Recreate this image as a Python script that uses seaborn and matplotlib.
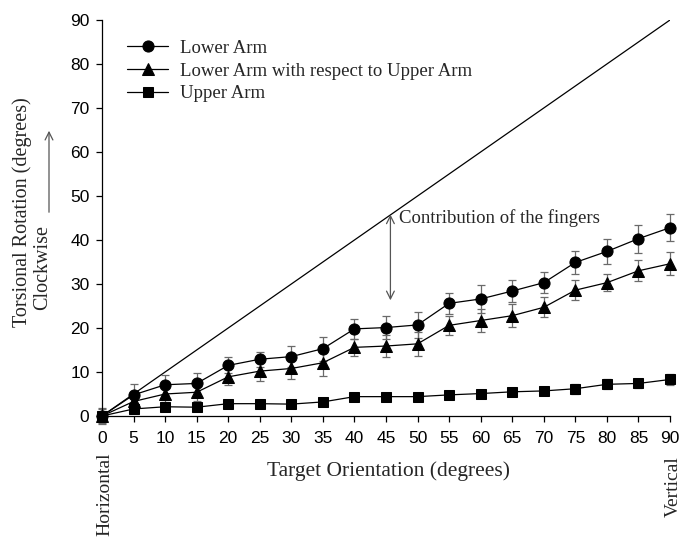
import numpy as np
import pandas as pd
import matplotlib
matplotlib.use("Agg")
import matplotlib.pyplot as plt
import seaborn as sns

# ---- data ----
orientation = [0, 5, 10, 15, 20, 25, 30, 35, 40, 45, 50, 55, 60, 65, 70, 75, 80, 85, 90]
lower_arm = [0, 4.8, 7.1, 7.4, 11.5, 12.9, 13.5, 15.3, 19.8, 20.1, 20.7, 25.6, 26.6, 28.4, 30.3, 34.9, 37.4, 40.3, 42.8]
lower_arm_err = [1.8, 2.4, 2.3, 2.3, 1.8, 1.7, 2.3, 2.7, 2.2, 2.6, 2.9, 2.4, 3.2, 2.6, 2.4, 2.6, 2.8, 3.2, 3.1]
lower_rel_upper = [0, 3.3, 5.0, 5.4, 8.9, 10.2, 10.8, 12.1, 15.6, 15.9, 16.4, 20.6, 21.7, 22.8, 24.7, 28.6, 30.3, 33.0, 34.6]
lower_rel_upper_err = [1.5, 1.8, 1.9, 1.9, 1.9, 2.2, 2.4, 2.9, 2.0, 2.5, 2.7, 2.1, 2.7, 2.6, 2.3, 2.2, 2.0, 2.4, 2.6]
upper_arm = [0, 1.6, 2.1, 2.0, 2.8, 2.8, 2.7, 3.2, 4.4, 4.4, 4.4, 4.8, 5.1, 5.5, 5.7, 6.2, 7.2, 7.4, 8.3]
upper_arm_err = [0.5, 0.4, 0.4, 0.4, 0.5, 0.5, 0.4, 0.5, 0.5, 0.5, 0.5, 0.5, 0.6, 0.9, 0.8, 1.1, 1.1, 1.0, 1.2]
series_names = ["Lower Arm", "Lower Arm with respect to Upper Arm", "Upper Arm"]
ideal_x = [0, 90]
ideal_y = [0, 90]
x_ticks = list(range(0, 95, 5))
y_ticks = list(range(0, 100, 10))

sns.set_style("ticks")
plt.rcParams["font.family"] = ["Liberation Sans", "DejaVu Sans"]
SERIF = ["Liberation Serif", "DejaVu Serif"]

W, H = 682, 540
fig = plt.figure(figsize=(W / 100, H / 100), dpi=100)
ax = fig.add_axes([102 / W, 124 / H, 568 / W, 396 / H])

# ideal line
sns.lineplot(x=ideal_x, y=ideal_y, color="black", linewidth=0.9, ax=ax)

series = [
    (series_names[0], lower_arm, lower_arm_err, "o", 8),
    (series_names[1], lower_rel_upper, lower_rel_upper_err, "^", 8),
    (series_names[2], upper_arm, upper_arm_err, "s", 7),
]
for name, ys, errs, mk, ms in series:
    ax.errorbar(orientation, ys, yerr=errs, fmt="none", ecolor="#6a6a6a",
                elinewidth=0.9, capsize=3, capthick=0.9, zorder=2, clip_on=False)
    df = pd.DataFrame({"x": orientation, "y": ys})
    sns.lineplot(data=df, x="x", y="y", color="black", marker=mk, markersize=ms,
                 markeredgecolor="black", linewidth=0.9, label=name, ax=ax,
                 clip_on=False, zorder=3)

ax.set_xlim(0, 90)
ax.set_ylim(0, 90)
ax.set_xticks(x_ticks)
ax.set_yticks(y_ticks)
ax.set_xlabel("")
ax.set_ylabel("")
sns.despine(ax=ax)
for s in ["left", "bottom"]:
    ax.spines[s].set_linewidth(0.9)
    ax.spines[s].set_color("black")
ax.tick_params(axis="both", direction="out", length=4, width=0.9, colors="black",
               labelsize=12.5)
ax.tick_params(axis="x", pad=7)
ax.tick_params(axis="y", pad=5)

handles, labels = ax.get_legend_handles_labels()
ax.legend(handles, labels, loc="upper left", bbox_to_anchor=((127 - 102) / 568, 0.95),
          frameon=False, borderaxespad=0, borderpad=0, handlelength=2.2,
          handletextpad=0.6, labelspacing=0.3, prop={"family": SERIF, "size": 13.5})

# annotation
ax.annotate("", xy=(45.7, 45.8), xytext=(45.7, 26.3),
            arrowprops=dict(arrowstyle="<->", color="#555555", lw=0.9,
                            shrinkA=0, shrinkB=0, mutation_scale=14))
ax.text(47.0, 45.0, "Contribution of the fingers", va="center", ha="left",
        fontsize=13.5, family=SERIF)

# outer labels
def px(x, y):
    return x / W, 1 - y / H

fig.text(*px(22, 212), "Torsional Rotation (degrees)", rotation=90, ha="center",
         va="center", fontsize=14.5, family=SERIF)
fig.text(*px(43, 268), "Clockwise", rotation=90, ha="center", va="center",
         fontsize=14.5, family=SERIF)
fig.add_artist(matplotlib.patches.FancyArrowPatch(
    px(49, 215), px(49, 128), transform=fig.transFigure, arrowstyle="->",
    color="#555555", lw=0.9, mutation_scale=14))
fig.text(*px(388, 471), "Target Orientation (degrees)", ha="center", va="center",
         fontsize=15.5, family=SERIF)
fig.text(*px(105, 494), "Horizontal", rotation=90, ha="center", va="center",
         fontsize=14, family=SERIF)
fig.text(*px(673, 487), "Vertical", rotation=90, ha="center", va="center",
         fontsize=14, family=SERIF)

fig.savefig("out.png", dpi=100)
